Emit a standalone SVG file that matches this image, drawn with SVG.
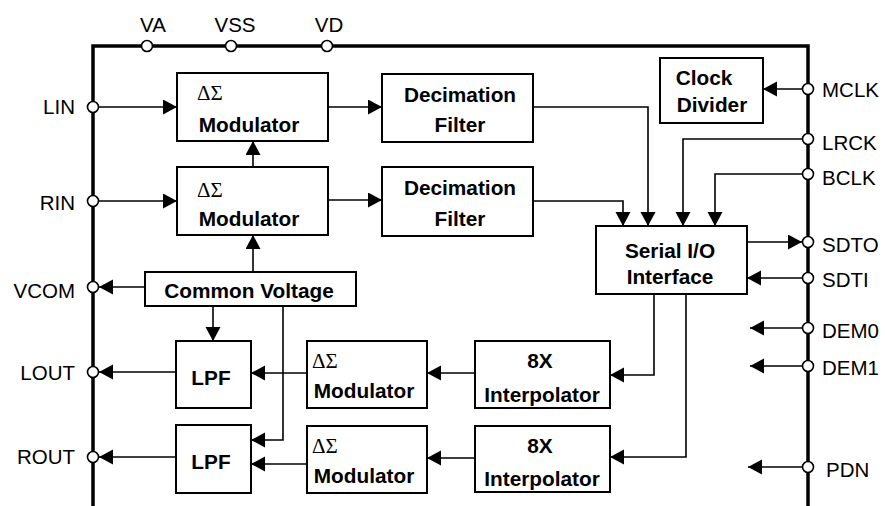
<svg xmlns="http://www.w3.org/2000/svg" width="885" height="506" viewBox="0 0 885 506">
<defs>
<marker id="ah" markerUnits="userSpaceOnUse" markerWidth="15" markerHeight="16" refX="14" refY="7.5" orient="auto">
<path d="M0,0 L14,7.5 L0,15 z" fill="#000"/>
</marker>
<style>
.box{fill:#fff;stroke:#000;stroke-width:2}
.b{font-family:"Liberation Sans",Arial,sans-serif;font-weight:bold;font-size:20.8px;text-anchor:middle;fill:#000}
.ds{font-family:"Liberation Serif","Times New Roman",serif;font-size:21px;fill:#000}
.lbl{font-family:"Liberation Sans",Arial,sans-serif;font-size:20.5px;fill:#000}
.r{text-anchor:end}
.m{text-anchor:middle}
.ln{fill:none;stroke:#000;stroke-width:1.6}
.arr{fill:none;stroke:#000;stroke-width:1.6;marker-end:url(#ah)}
.pin{fill:#fff;stroke:#000;stroke-width:1.6}
.frame{fill:none;stroke:#000;stroke-width:3.5}
</style>
</defs>
<rect width="885" height="506" fill="#fff"/>

<g id="connectors">
<path class="arr" d="M99,107 L177,107"/>
<path class="arr" d="M99,201 L177,201"/>
<path class="arr" d="M328,107 L382,107"/>
<path class="arr" d="M328,200 L382,200"/>
<path class="arr" d="M253,167 L253,141"/>
<path class="arr" d="M253,272 L253,235"/>
<path class="arr" d="M145,287 L99,287"/>
<path class="arr" d="M213,306 L213,341"/>
<path class="arr" d="M283,306 L283,440 L251,440"/>
<path class="arr" d="M176,372 L99,372"/>
<path class="arr" d="M176,457 L99,457"/>
<path class="arr" d="M307,373 L251,373"/>
<path class="arr" d="M307,464 L251,464"/>
<path class="arr" d="M475,373 L427,373"/>
<path class="arr" d="M475,458 L427,458"/>
<path class="arr" d="M654,294 L654,375 L610,375"/>
<path class="arr" d="M686,294 L686,457 L610,457"/>
<path class="arr" d="M533,107 L648,107 L648,226"/>
<path class="arr" d="M533,201 L623,201 L623,226"/>
<path class="arr" d="M803,139 L683,139 L683,226"/>
<path class="arr" d="M803,174 L715,174 L715,226"/>
<path class="arr" d="M803,89 L763,89"/>
<path class="arr" d="M747,242 L802,242"/>
<path class="arr" d="M803,278 L747,278"/>
<path class="arr" d="M803,328 L750,328"/>
<path class="arr" d="M803,366 L750,366"/>
<path class="arr" d="M803,467 L748,467"/>
</g>

<g id="frame">
<path class="frame" d="M93,506 L93,46 L808,46 L808,506"/>
</g>

<g id="adc-mod-l"><rect class="box" x="177" y="73" width="151" height="68"/><text class="ds" x="197" y="100">ΔΣ</text><text class="b" x="249" y="132">Modulator</text></g>
<g id="adc-mod-r"><rect class="box" x="177" y="167" width="151" height="68"/><text class="ds" x="197" y="197">ΔΣ</text><text class="b" x="249" y="226">Modulator</text></g>
<g id="dec-l"><rect class="box" x="382" y="74" width="151" height="68"/><text class="b" x="460" y="102">Decimation</text><text class="b" x="460" y="132">Filter</text></g>
<g id="dec-r"><rect class="box" x="382" y="167" width="151" height="69"/><text class="b" x="460" y="195">Decimation</text><text class="b" x="460" y="226">Filter</text></g>
<g id="common-voltage"><rect class="box" x="145" y="272" width="211" height="34"/><text class="b" x="249" y="298">Common Voltage</text></g>
<g id="lpf-l"><rect class="box" x="176" y="341" width="75" height="67"/><text class="b" x="211" y="385">LPF</text></g>
<g id="lpf-r"><rect class="box" x="176" y="425" width="75" height="68"/><text class="b" x="211" y="469">LPF</text></g>
<g id="dac-mod-l"><rect class="box" x="307" y="341" width="120" height="67"/><text class="ds" x="312" y="368">ΔΣ</text><text class="b" x="364" y="398">Modulator</text></g>
<g id="dac-mod-r"><rect class="box" x="307" y="426" width="120" height="67"/><text class="ds" x="312" y="453">ΔΣ</text><text class="b" x="364" y="483">Modulator</text></g>
<g id="interp-l"><rect class="box" x="475" y="341" width="135" height="67"/><text class="b" x="540" y="368">8X</text><text class="b" x="542" y="402">Interpolator</text></g>
<g id="interp-r"><rect class="box" x="475" y="426" width="135" height="66"/><text class="b" x="540" y="453">8X</text><text class="b" x="542" y="486">Interpolator</text></g>
<g id="serial-io"><rect class="box" x="596" y="226" width="151" height="68"/><text class="b" x="670" y="258">Serial I/O</text><text class="b" x="670" y="284">Interface</text></g>
<g id="clock-divider"><rect class="box" x="660" y="58" width="103" height="65"/><text class="b" x="704" y="85">Clock</text><text class="b" x="712" y="112">Divider</text></g>

<g id="pins">
<circle class="pin" cx="147" cy="46" r="5.5"/><text class="lbl m" x="153" y="32">VA</text>
<circle class="pin" cx="231" cy="46" r="5.5"/><text class="lbl m" x="235" y="32">VSS</text>
<circle class="pin" cx="327" cy="46" r="5.5"/><text class="lbl m" x="329" y="32">VD</text>
<circle class="pin" cx="93" cy="107" r="5.5"/><text class="lbl r" x="75" y="114">LIN</text>
<circle class="pin" cx="93" cy="201" r="5.5"/><text class="lbl r" x="75" y="210">RIN</text>
<circle class="pin" cx="93" cy="287" r="5.5"/><text class="lbl r" x="75" y="298">VCOM</text>
<circle class="pin" cx="93" cy="372" r="5.5"/><text class="lbl r" x="75" y="380">LOUT</text>
<circle class="pin" cx="93" cy="457" r="5.5"/><text class="lbl r" x="75" y="464">ROUT</text>
<circle class="pin" cx="808" cy="89" r="5.5"/><text class="lbl" x="822" y="97">MCLK</text>
<circle class="pin" cx="808" cy="139" r="5.5"/><text class="lbl" x="822" y="150">LRCK</text>
<circle class="pin" cx="808" cy="174" r="5.5"/><text class="lbl" x="822" y="185">BCLK</text>
<circle class="pin" cx="808" cy="242" r="5.5"/><text class="lbl" x="822" y="252">SDTO</text>
<circle class="pin" cx="808" cy="278" r="5.5"/><text class="lbl" x="822" y="287">SDTI</text>
<circle class="pin" cx="808" cy="328" r="5.5"/><text class="lbl" x="822" y="338">DEM0</text>
<circle class="pin" cx="808" cy="366" r="5.5"/><text class="lbl" x="822" y="375">DEM1</text>
<circle class="pin" cx="808" cy="467" r="5.5"/><text class="lbl" x="826" y="477">PDN</text>
</g>
</svg>
